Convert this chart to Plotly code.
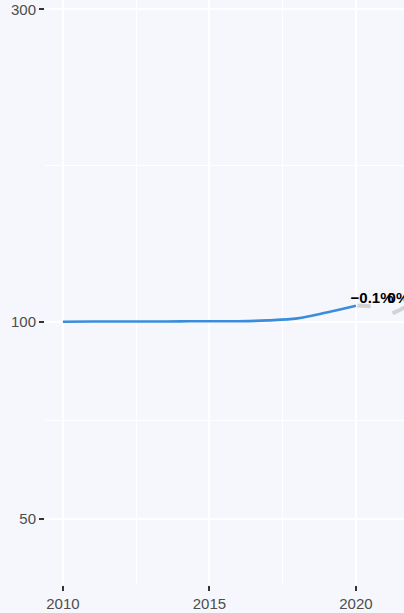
import plotly.graph_objects as go

years = [2010, 2011, 2012, 2013, 2014, 2015, 2016, 2017, 2018, 2019, 2020]
index_values = [100.0, 100.1, 100.1, 100.1, 100.15, 100.2, 100.2, 100.5, 101.2, 103.3, 105.8]

grey_a_x = [2020.05, 2020.5]
grey_a_y = [105.9, 105.6]
grey_b_x = [2021.25, 2021.75]
grey_b_y = [103.0, 105.6]

label_x = [2020.55, 2021.45]
label_y = [108.3, 108.3]
label_text = ["−0.1%", "0%"]

y_ticks = [50, 100, 300]
y_minor = [70.71, 173.2]
x_ticks = [2010, 2015, 2020]
x_minor = [2012.5, 2017.5, 2022.5]

bg = "#f6f7fc"
fig = go.Figure()
fig.add_trace(go.Scatter(x=grey_a_x, y=grey_a_y, mode="lines",
                         line=dict(color="#d3d3d3", width=4), showlegend=False))
fig.add_trace(go.Scatter(x=grey_b_x, y=grey_b_y, mode="lines",
                         line=dict(color="#d3d3d3", width=4), showlegend=False))
fig.add_trace(go.Scatter(x=years, y=index_values, mode="lines",
                         line=dict(color="#3a8ddd", width=2.6, shape="spline", smoothing=1.0),
                         showlegend=False))
fig.add_trace(go.Scatter(x=label_x, y=label_y, mode="text", text=label_text,
                         textfont=dict(family="Liberation Sans", size=15, color="black", weight="bold"),
                         showlegend=False, cliponaxis=False))

fig.update_layout(
    width=404, height=613,
    margin=dict(l=45, r=0, t=0, b=28, pad=0),
    paper_bgcolor=bg, plot_bgcolor=bg,
    font=dict(family="Liberation Sans", size=15, color="#4d4d4d"),
    showlegend=False,
)
fig.update_xaxes(range=[2009.39, 2021.64], tickvals=x_ticks, ticks="outside", ticklen=5,
                 tickwidth=2, tickcolor="#333333", showgrid=True, gridcolor="white", gridwidth=2,
                 zeroline=False, showline=False, automargin=False,
                 minor=dict(tickvals=x_minor, showgrid=True, gridcolor="white", gridwidth=1, ticks=""),
                 tickfont=dict(size=15, color="#4d4d4d"))
fig.update_yaxes(type="log", range=[1.598, 2.4915], tickvals=y_ticks, ticktext=[str(v) for v in y_ticks],
                 ticks="outside", ticklen=5, tickwidth=2, tickcolor="#333333",
                 showgrid=True, gridcolor="white", gridwidth=2, zeroline=False, showline=False,
                 automargin=False,
                 minor=dict(tickvals=y_minor, showgrid=True, gridcolor="white", gridwidth=1, ticks=""),
                 tickfont=dict(size=15, color="#4d4d4d"))

fig.write_html("out.html", config={"displayModeBar": False},
               post_script="document.body.style.margin='0';document.body.style.overflow='hidden';document.body.style.background='" + bg + "';")
